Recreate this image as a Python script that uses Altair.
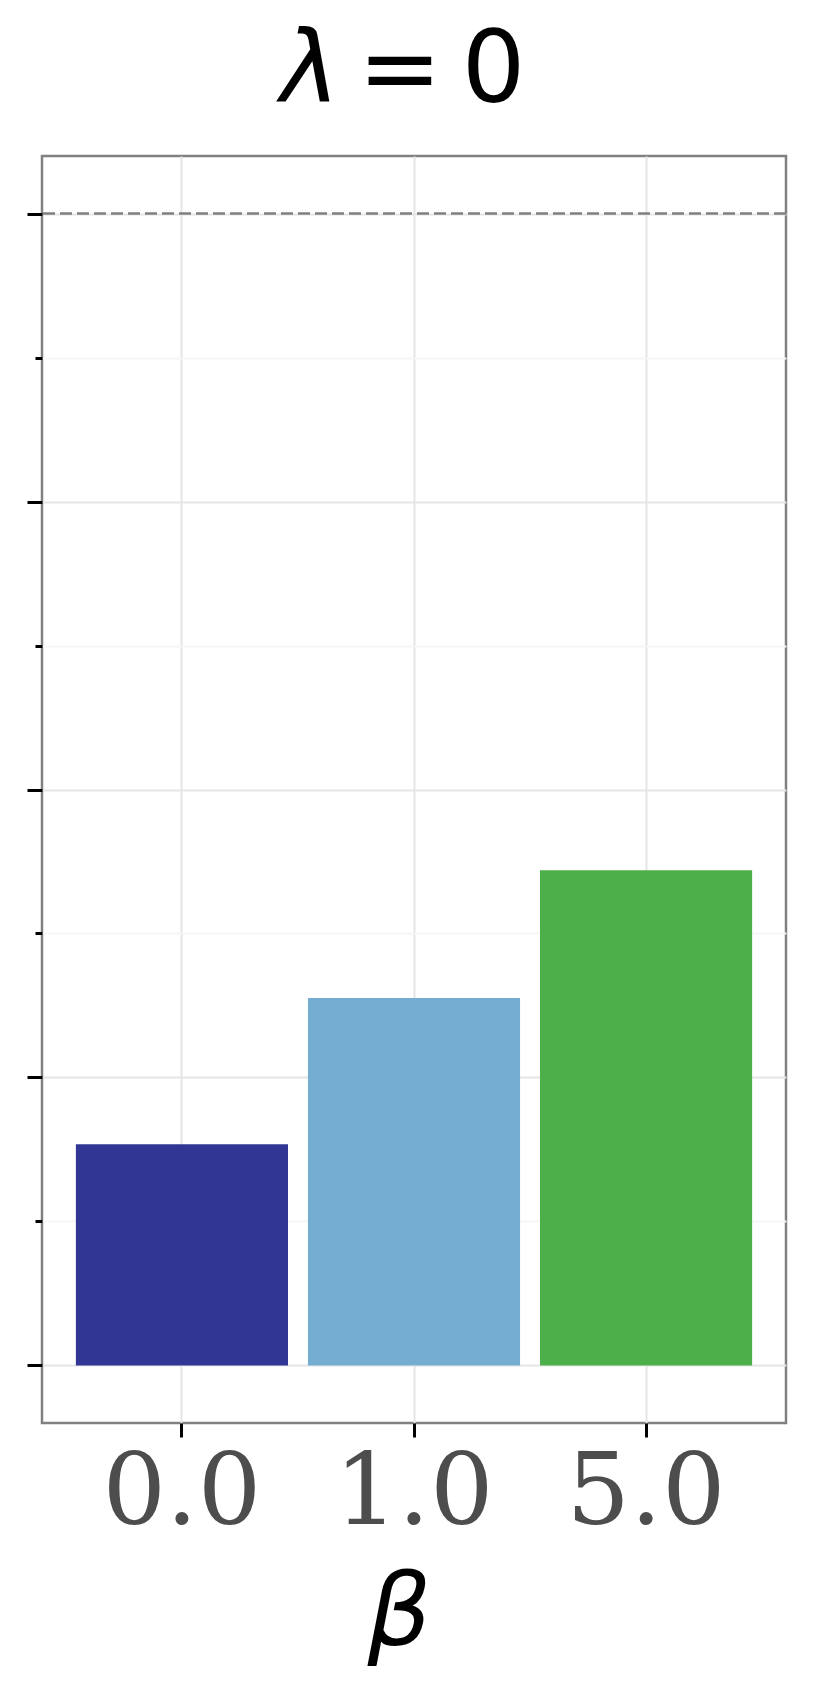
import altair as alt
import pandas as pd

# data
betas = ["0.0", "1.0", "5.0"]
values = [0.192, 0.319, 0.430]
bar_colors = ["#313695", "#74add1", "#4daf4a"]
ref_values = [1.0]
major_ticks = [0.0, 0.25, 0.5, 0.75, 1.0]
minor_ticks = [0.125, 0.375, 0.625, 0.875]
title_symbol = ["λ"]
title_rest = ["=\u20090"]

df = pd.DataFrame({"beta": betas, "value": values})
ref_df = pd.DataFrame({"ref": ref_values})
sym_df = pd.DataFrame({"t": title_symbol})
rest_df = pd.DataFrame({"t": title_rest})
all_ticks = sorted(major_ticks + minor_ticks)
major_test = "indexof([" + ",".join(str(v) for v in major_ticks) + "], datum.value) >= 0"

y_scale = alt.Scale(domain=[-0.05, 1.05], nice=False, zero=False)

bars = alt.Chart(df).mark_bar().encode(
    x=alt.X(
        "beta:N",
        sort=betas,
        scale=alt.Scale(paddingInner=0.086, paddingOuter=0.146),
        axis=alt.Axis(
            title="β",
            titleFont="DejaVu Sans",
            titleFontStyle="italic",
            titleFontWeight="normal",
            titleFontSize=100,
            titleColor="black",
            titlePadding=22,
            titleX=357,
            titleAlign="center",
            labelFont="DejaVu Serif",
            labelFontSize=100,
            labelColor="#4d4d4d",
            labelAngle=0,
            labelPadding=7,
            labelBaseline="top",
            domain=False,
            ticks=True,
            tickSize=14,
            tickWidth=3,
            tickColor="black",
            grid=True,
            gridColor="#e5e5e5",
            gridWidth=2,
            bandPosition=0.5,
        ),
    ),
    y=alt.Y(
        "value:Q",
        scale=y_scale,
        axis=alt.Axis(
            title=None,
            labels=False,
            domain=False,
            values=all_ticks,
            tickColor="black",
            tickWidth=3,
            tickSize={"condition": {"test": major_test, "value": 15}, "value": 7},
            grid=True,
            gridWidth=2,
            gridColor={"condition": {"test": major_test, "value": "#e5e5e5"}, "value": "#f6f6f6"},
        ),
    ),
    color=alt.Color("beta:N", sort=betas, scale=alt.Scale(domain=betas, range=bar_colors), legend=None),
)

ref = alt.Chart(ref_df).mark_rule(
    strokeDash=[12, 5], color="#808080", strokeWidth=2.5
).encode(y=alt.Y("ref:Q", scale=y_scale))

title_sym = alt.Chart(sym_df).mark_text(
    font="DejaVu Sans", fontSize=100, fontStyle="italic", color="black",
    align="center", baseline="alphabetic"
).encode(text="t:N", x=alt.value(268), y=alt.value(-54))

title_rest_mark = alt.Chart(rest_df).mark_text(
    font="DejaVu Sans", fontSize=100, color="black",
    align="left", baseline="alphabetic"
).encode(text="t:N", x=alt.value(316), y=alt.value(-54))

chart = (
    alt.layer(bars, ref, title_sym, title_rest_mark)
    .properties(
        width=744,
        height=1267,
        autosize=alt.AutoSizeParams(type="none"),
        padding={"left": 34, "top": 148, "right": 35, "bottom": 260},
    )
    .configure(background="white")
    .configure_view(stroke="#808080", strokeWidth=2.5)
)

chart.save("out.html", embed_options={"renderer": "svg", "actions": False})
